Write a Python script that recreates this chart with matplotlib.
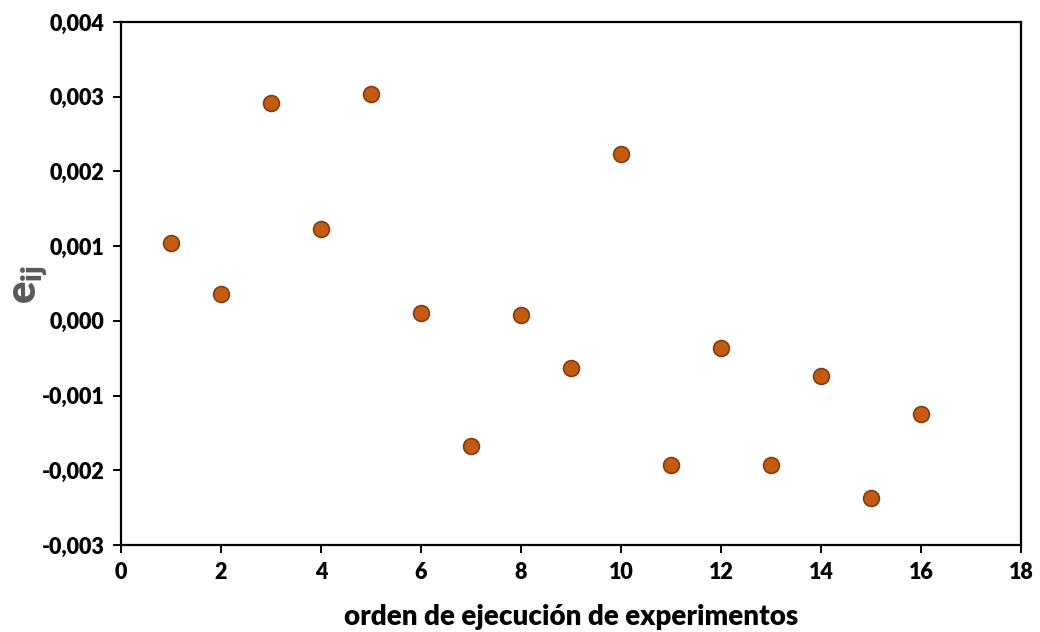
import matplotlib
matplotlib.use("Agg")
import matplotlib.pyplot as plt
from matplotlib.ticker import FuncFormatter, MultipleLocator

plt.rcParams['font.family'] = ['Lato', 'DejaVu Sans']

# Run order and residuals
orden = [1, 2, 3, 4, 5, 6, 7, 8, 9, 10, 11, 12, 13, 14, 15, 16]
residuos = [0.00104, 0.00036, 0.00292, 0.00123, 0.00304, 0.00011, -0.00167, 0.00008,
            -0.00063, 0.00223, -0.00193, -0.00036, -0.00193, -0.00074, -0.00237, -0.00125]

fig = plt.figure(figsize=(10.4, 6.32), dpi=100)
ax = fig.add_axes([121/1040, 1 - 545/632, 900/1040, 523/632])

ax.scatter(orden, residuos, s=130, facecolor='#C55A11', edgecolor='#843C0C',
           linewidth=1.2, zorder=3)

ax.set_xlim(0, 18)
ax.set_ylim(-0.003, 0.004)
ax.xaxis.set_major_locator(MultipleLocator(2))
ax.yaxis.set_major_locator(MultipleLocator(0.001))
ax.yaxis.set_major_formatter(FuncFormatter(lambda v, p: f"{v:.3f}".replace('.', ',')
                                           .replace('-0,000', '0,000')))

for s in ax.spines.values():
    s.set_linewidth(1.6)
    s.set_color('black')
ax.tick_params(direction='out', length=6, width=1.4, labelsize=15.5, pad=6)
for lab in ax.get_xticklabels() + ax.get_yticklabels():
    lab.set_fontweight('heavy')

fig.text(571/1040, 1 - 617/632, 'orden de ejecución de experimentos', fontsize=20,
         fontweight='heavy', ha='center', va='center')
fig.text(31/1040, 1 - 284/632, r'e$_{\mathregular{ij}}$', fontsize=30, color='#595959',
         fontweight='heavy', rotation=90, ha='center', va='center')

fig.savefig('out.png', dpi=100)
